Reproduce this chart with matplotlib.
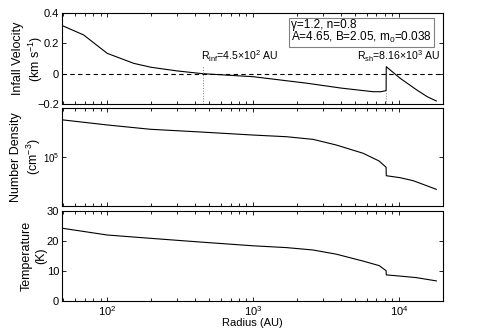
import numpy as np
import matplotlib.pyplot as plt
from matplotlib.ticker import LogLocator, NullFormatter, FixedLocator

plt.rcParams['font.family'] = ['Liberation Sans', 'DejaVu Sans']
plt.rcParams['font.size'] = 8
plt.rcParams['mathtext.fontset'] = 'custom'
plt.rcParams['mathtext.rm'] = 'Liberation Sans'
plt.rcParams['mathtext.it'] = 'Liberation Sans:italic'

R_INF = 450.
R_SH = 8160.

# infall velocity (km/s)
r_vel = [50, 69, 100, 152, 200, 302, 450, 1000, 2340, 4000, 6640, 7500, 8150,
         8170, 10160, 13200, 15600, 18000]
vel = [0.314, 0.255, 0.134, 0.068, 0.042, 0.018, 0.0, -0.02, -0.063, -0.095, -0.119, -0.119, -0.112,
       0.046, -0.03, -0.107, -0.152, -0.18]

# number density (log10 cm^-3)
r_den = [50, 100, 197, 450, 1000, 1690, 2575, 3720, 5670, 7300, 8150,
         8170, 10160, 12500, 14600, 18000]
log_den = [5.378, 5.327, 5.283, 5.254, 5.224, 5.207, 5.180, 5.122, 5.038, 4.959, 4.895,
           4.809, 4.789, 4.758, 4.721, 4.670]

# temperature (K)
r_tem = [50, 100, 197, 450, 1000, 1690, 2575, 3720, 5670, 7300, 8150,
         8170, 10160, 13100, 18000]
tem = [24.2, 22.0, 20.9, 19.6, 18.4, 17.8, 17.0, 15.6, 13.3, 11.8, 10.1,
       8.7, 8.3, 7.8, 6.7]

fig = plt.figure(figsize=(4.91, 3.30), dpi=100)
left, width = 62 / 491, (443 - 62) / 491
ax1 = fig.add_axes([left, 1 - 104 / 330, width, 91 / 330])
ax2 = fig.add_axes([left, 1 - 206 / 330, width, 98 / 330])
ax3 = fig.add_axes([left, 1 - 301 / 330, width, 90 / 330])

for ax in (ax1, ax2, ax3):
    ax.set_xscale('log')
    ax.set_xlim(49, 20000)
    ax.tick_params(which='both', direction='in', top=True, right=True, length=3, width=0.6, pad=2)
    ax.tick_params(which='minor', length=2)
    for s in ax.spines.values():
        s.set_linewidth(0.8)
    ax.xaxis.set_minor_locator(LogLocator(base=10, subs=np.arange(2, 10)))

ax1.tick_params(labelbottom=False)
ax2.tick_params(labelbottom=False)

lw = 0.8
ax1.plot(r_vel, vel, color='black', lw=lw)
ax1.axhline(0, color='black', ls='--', lw=0.8, dashes=(4, 3))
ax1.plot([R_INF, R_INF], [-0.2, 0.05], color='gray', ls=':', lw=0.7)
ax1.plot([R_SH, R_SH], [-0.2, -0.112], color='gray', ls=':', lw=0.7)
ax1.set_ylim(-0.2, 0.4)
ax1.set_yticks([-0.2, 0, 0.2, 0.4])
ax1.set_yticklabels(['\u22120.2', '0', '0.2', '0.4'])
ax1.set_ylabel('Infall Velocity\n(km s$^{-1}$)', fontsize=9)
ax1.yaxis.set_label_coords(-0.045, 0.5)
ax1.text(R_INF * 0.98, 0.088, r'R$_{\mathrm{inf}}$=4.5$\times$10$^{2}$ AU', fontsize=7.6)
ax1.text(R_SH * 0.63, 0.088, r'R$_{\mathrm{sh}}$=8.16$\times$10$^{3}$ AU', fontsize=7.6)
ax1.text(0.601, 0.935, '\u03b3=1.2, n=0.8\nA=4.65, B=2.05, m$_0$=0.038',
         transform=ax1.transAxes, va='top', ha='left', fontsize=8.5, linespacing=0.9,
         bbox=dict(boxstyle='square,pad=0.15', fc='white', ec='gray', lw=0.8))

ax2.set_yscale('log')
ax2.plot(r_den, 10 ** np.array(log_den), color='black', lw=lw)
ax2.set_ylim(10 ** 4.5, 10 ** 5.5)
ax2.yaxis.set_major_locator(FixedLocator([1e5]))
ax2.yaxis.set_minor_locator(FixedLocator([]))
ax2.yaxis.set_minor_formatter(NullFormatter())
ax2.set_yticklabels(['10$^{5}$'], fontsize=7)
ax2.set_ylabel('Number Density\n(cm$^{-3}$)', fontsize=9)
ax2.yaxis.set_label_coords(-0.05, 0.5)

ax3.plot(r_tem, tem, color='black', lw=lw)
ax3.set_ylim(0, 30)
ax3.set_yticks([0, 10, 20, 30])
ax3.set_ylabel('Temperature\n(K)', fontsize=9)
ax3.yaxis.set_label_coords(-0.04, 0.5)
ax3.set_xlabel('Radius (AU)', labelpad=0)

fig.savefig('out.png', dpi=100)
